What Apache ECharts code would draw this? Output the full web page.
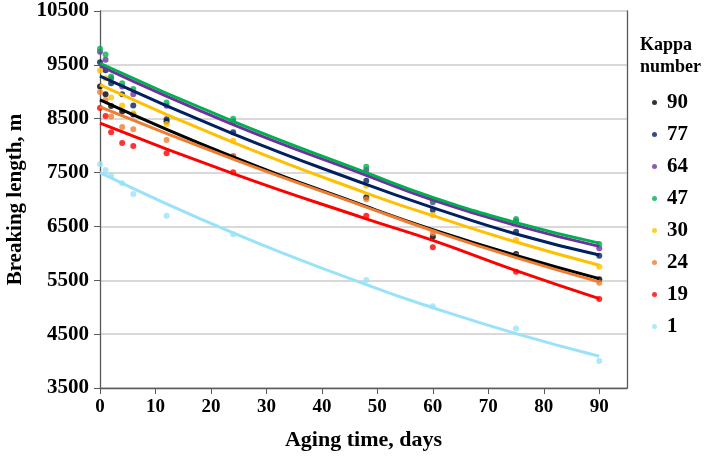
<!DOCTYPE html>
<html><head><meta charset="utf-8">
<script src="https://cdn.jsdelivr.net/npm/echarts@6/dist/echarts.min.js"></script>
<style>html,body{margin:0;padding:0;background:#fff}#c{width:705px;height:458px}</style>
</head><body><div id="c"></div>
<script>
const days = [0, 1, 2, 4, 6, 12, 24, 48, 60, 75, 90];
const kappa = ['90', '77', '64', '47', '30', '24', '19', '1'];
const colors = ['#000000', '#002060', '#7030A0', '#00B050', '#FFC000', '#ED7D31', '#FF0000', '#99E2FA'];
const k90 = [9097, 8955, 8738, 8633, 8580, 8450, 7800, 7040, 6309, 5987, 5517];
const k77 = [9550, 9400, 9159, 8955, 8744, 8491, 8249, 7350, 6805, 6402, 5955];
const k64 = [9742, 9593, 9250, 9100, 8955, 8740, 8450, 7548, 6948, 6600, 6093];
const k47 = [9797, 9692, 9283, 9159, 9054, 8800, 8500, 7610, 6980, 6638, 6173];
const k30 = [9395, 9250, 8893, 8744, 8602, 8403, 8093, 7257, 6712, 6247, 5751];
const k24 = [8998, 8849, 8540, 8348, 8304, 8106, 7809, 7004, 6372, 5950, 5455];
const k19 = [8701, 8552, 8249, 8050, 7994, 7859, 7506, 6699, 6112, 5658, 5151];
const k1  = [7654, 7548, 7443, 7301, 7102, 6699, 6353, 5504, 5020, 4606, 4000];
// trend lines
const trendDays = [0, 24, 48, 60, 75, 90];
const t90 = [8850, 7790, 6870, 6440, 5960, 5530];
const t77 = [9290, 8220, 7280, 6850, 6360, 5970];
const t64 = [9480, 8390, 7450, 6990, 6520, 6130];
const t47 = [9530, 8450, 7500, 7040, 6570, 6190];
const t30 = [9130, 8060, 7120, 6700, 6210, 5780];
const t24 = [8720, 7750, 6860, 6420, 5920, 5470];
const t19 = [8420, 7480, 6640, 6240, 5680, 5160];
const t1  = [7500, 6380, 5420, 4990, 4510, 4090];
const xTicks = [0, 10, 20, 30, 40, 50, 60, 70, 80, 90];
const yTicks = [3500, 4500, 5500, 6500, 7500, 8500, 9500, 10500];

const pts = [k90, k77, k64, k47, k30, k24, k19, k1];
const trends = [t90, t77, t64, t47, t30, t24, t19, t1];
const FONT = "'Liberation Serif','Times New Roman',serif";
const series = [];
pts.forEach((arr, i) => {
  series.push({
    name: kappa[i], type: 'scatter', symbol: 'circle', symbolSize: 6,
    itemStyle: {color: colors[i]}, z: 2,
    data: days.map((d, j) => [d, arr[j]])
  });
});
trends.forEach((arr, i) => {
  series.push({
    name: 'trend' + kappa[i], type: 'line', smooth: true, showSymbol: false, symbol: 'none',
    lineStyle: {color: colors[i], width: 3}, z: 3, silent: true,
    data: trendDays.map((d, j) => [d, arr[j]])
  });
});

const chart = echarts.init(document.getElementById('c'), null, {renderer: 'canvas'});
chart.setOption({
  animation: false,
  backgroundColor: '#fff',
  grid: {left: 100, right: 78, top: 11, bottom: 70, containLabel: false, outerBoundsMode: 'none'},
  xAxis: {
    type: 'value', min: 0, max: 95, interval: 10,
    name: 'Aging time, days', nameLocation: 'middle', nameGap: 41,
    nameTextStyle: {fontFamily: FONT, fontWeight: 'bold', fontSize: 22, color: '#000'},
    axisLine: {lineStyle: {color: '#595959', width: 1.3}},
    axisTick: {show: true, length: 6, lineStyle: {color: '#595959'}},
    axisLabel: {showMaxLabel: false, margin: 10, fontFamily: FONT, fontWeight: 'bold', fontSize: 19, color: '#000',
      formatter: v => xTicks.includes(v) ? String(v) : ''},
    splitLine: {show: false}
  },
  yAxis: [{
    type: 'value', min: 3500, max: 10500, interval: 1000,
    name: 'Breaking length, m', nameLocation: 'middle', nameGap: 72,
    nameTextStyle: {fontFamily: FONT, fontWeight: 'bold', fontSize: 21, color: '#000'},
    axisLine: {show: true, lineStyle: {color: '#595959', width: 1.3}},
    axisTick: {show: true, length: 6, lineStyle: {color: '#595959'}},
    axisLabel: {margin: 11, fontFamily: FONT, fontWeight: 'bold', fontSize: 21, color: '#000',
      formatter: v => yTicks.includes(v) ? String(v) : ''},
    splitLine: {show: true, lineStyle: {color: '#D9D9D9', width: 2}}
  }, {
    type: 'value', min: 3500, max: 10500, interval: 1000, position: 'right',
    axisLine: {show: true, lineStyle: {color: '#595959', width: 1.3}},
    axisTick: {show: false}, axisLabel: {show: false}, splitLine: {show: false}
  }],
  legend: {
    data: kappa, orient: 'vertical', left: 647, top: 87,
    icon: 'circle', itemWidth: 5, itemHeight: 5, itemGap: 11,
    textStyle: {fontFamily: FONT, fontWeight: 'bold', fontSize: 21, color: '#000', padding: [0, 0, 0, 5]}
  },
  graphic: [{
    type: 'text', left: 640, top: 34,
    style: {text: 'Kappa\nnumber', font: "bold 18px 'Liberation Serif','Times New Roman',serif", fill: '#000', lineHeight: 22}
  }],
  series: series
});
</script></body></html>
